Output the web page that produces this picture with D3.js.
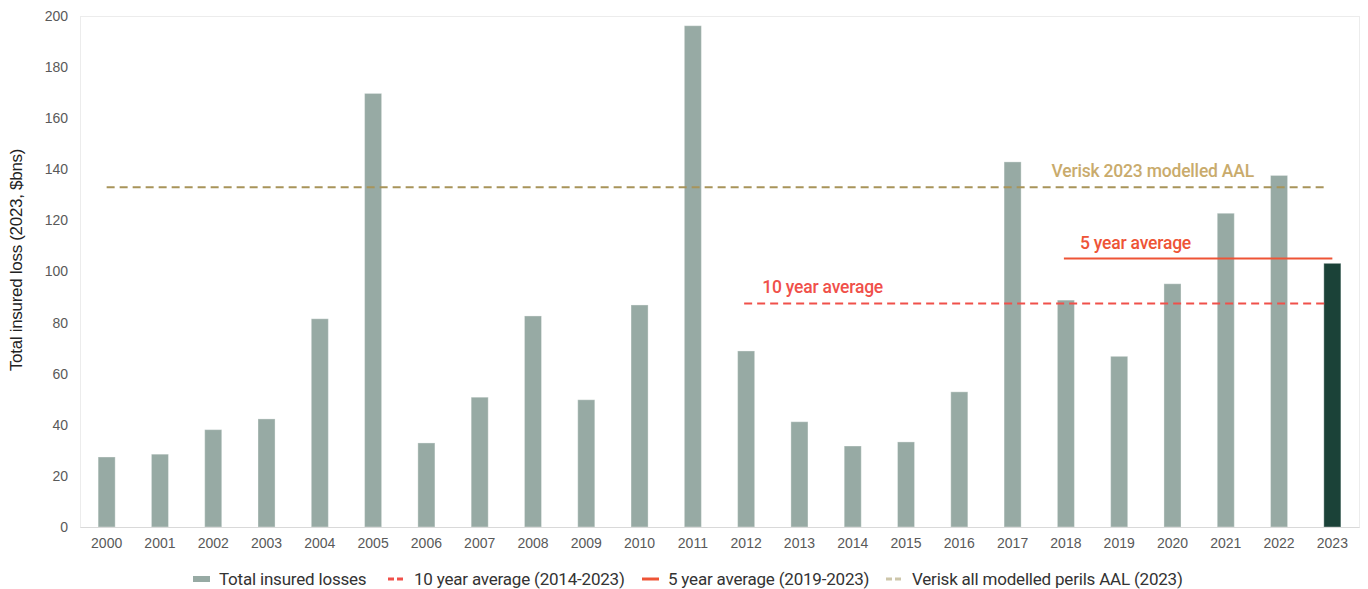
<!DOCTYPE html>
<html>
<head>
<meta charset="utf-8">
<script src="https://d3js.org/d3.v7.min.js"></script>
<style>
  body { margin: 0; background: #fff; }
  svg { display: block; }
</style>
</head>
<body>
<div id="chart"></div>
<script>
// data
const years = ["2000","2001","2002","2003","2004","2005","2006","2007","2008","2009","2010","2011",
               "2012","2013","2014","2015","2016","2017","2018","2019","2020","2021","2022","2023"];
const losses = [27.4, 28.5, 38.1, 42.3, 81.5, 169.7, 32.9, 50.8, 82.6, 49.8, 86.9, 196.2,
                68.9, 41.2, 31.7, 33.3, 52.9, 142.9, 88.8, 66.8, 95.2, 122.8, 137.6, 103.2];
const yTicks = [0, 20, 40, 60, 80, 100, 120, 140, 160, 180, 200];
const tenYearAvg = 87.5;
const fiveYearAvg = 105.1;
const veriskAAL = 133;
const legendLabels = ["Total insured losses", "10 year average (2014-2023)",
                      "5 year average (2019-2023)", "Verisk all modelled perils AAL (2023)"];

const width = 1368, height = 589;
const margin = {top: 16, right: 9, bottom: 62, left: 80};

const barColor = "#97aaa4", lastBarColor = "#1b4238";
const red10 = "#f0504a", red5 = "#ee5436", gold = "#a8945a", goldText = "#c9ab6c";

const svg = d3.select("#chart").append("svg")
    .attr("width", width)
    .attr("height", height);

const x = d3.scaleBand()
    .domain(years)
    .range([margin.left, width - margin.right])
    .paddingInner(0.68)
    .paddingOuter(0.34);

const y = d3.scaleLinear()
    .domain([0, 200])
    .range([height - margin.bottom, margin.top]);

const cx = yr => x(yr) + x.bandwidth() / 2;

// plot frame
svg.append("rect")
    .attr("x", margin.left + 0.5)
    .attr("y", margin.top + 0.5)
    .attr("width", width - margin.right - margin.left)
    .attr("height", height - margin.bottom - margin.top)
    .attr("fill", "none")
    .attr("stroke", "#ececec");

// bars
svg.append("g")
  .selectAll("rect")
  .data(years)
  .join("rect")
    .attr("x", d => x(d))
    .attr("y", (d, i) => y(losses[i]))
    .attr("width", x.bandwidth())
    .attr("height", (d, i) => y(0) - y(losses[i]))
    .attr("fill", (d, i) => i === years.length - 1 ? lastBarColor : barColor)
    .attr("stroke", "#ffffff")
    .attr("stroke-opacity", 0.35)
    .attr("stroke-width", 1);

// x axis
const xAxis = svg.append("g")
    .attr("transform", `translate(0,${y(0)})`)
    .call(d3.axisBottom(x).tickSize(0).tickPadding(11));
xAxis.select(".domain").attr("stroke", "#d9d9d9");
xAxis.selectAll("text")
    .attr("font-family", "Liberation Sans, Arial, sans-serif")
    .attr("font-size", 14)
    .attr("fill", "#595959");

// y axis
const yAxis = svg.append("g")
    .attr("transform", `translate(${margin.left},0)`)
    .call(d3.axisLeft(y).tickValues(yTicks).tickSize(0).tickPadding(12));
yAxis.select(".domain").remove();
yAxis.selectAll("text")
    .attr("font-family", "Liberation Sans, Arial, sans-serif")
    .attr("font-size", 14)
    .attr("fill", "#595959");

// y title
svg.append("text")
    .attr("transform", "translate(22,260) rotate(-90)")
    .attr("text-anchor", "middle")
    .attr("font-family", "Liberation Sans, Arial, sans-serif")
    .attr("font-size", 17)
    .attr("letter-spacing", -0.3)
    .attr("fill", "#222")
    .text("Total insured loss (2023, $bns)");

// reference lines
svg.append("line")
    .attr("x1", cx("2000")).attr("x2", cx("2023") - 4)
    .attr("y1", y(veriskAAL)).attr("y2", y(veriskAAL))
    .attr("stroke", gold).attr("stroke-width", 2)
    .attr("stroke-dasharray", "8,5");

svg.append("line")
    .attr("x1", cx("2012") - 2).attr("x2", cx("2023") - 4)
    .attr("y1", y(tenYearAvg)).attr("y2", y(tenYearAvg))
    .attr("stroke", red10).attr("stroke-width", 2)
    .attr("stroke-dasharray", "8,5");

svg.append("line")
    .attr("x1", cx("2018") - 2).attr("x2", cx("2023"))
    .attr("y1", y(fiveYearAvg)).attr("y2", y(fiveYearAvg))
    .attr("stroke", red5).attr("stroke-width", 2);

// annotations
const note = (tx, ty, txt, col) => svg.append("text")
    .attr("x", tx).attr("y", ty)
    .attr("font-family", "Roboto, sans-serif")
    .attr("font-weight", 500)
    .attr("font-size", 17.5)
    .attr("letter-spacing", -0.2)
    .attr("fill", col)
    .text(txt);

note(cx("2012") + 16, y(tenYearAvg) - 10, "10 year average", red10);
note(cx("2018") + 14, y(fiveYearAvg) - 9, "5 year average", red5);
note(cx("2017") + 39, y(veriskAAL) - 10, "Verisk 2023 modelled AAL", goldText);

// legend
const legendItems = [
  {label: legendLabels[0], x: 193, color: barColor, dash: null, w: 6},
  {label: legendLabels[1], x: 388, color: red10, dash: "6,3", w: 3},
  {label: legendLabels[2], x: 642, color: red5, dash: null, w: 3},
  {label: legendLabels[3], x: 886, color: "#cdc6aa", dash: "6,3", w: 3}
];

const legend = svg.append("g").attr("transform", "translate(0,579)");
legendItems.forEach(d => {
  legend.append("line")
      .attr("x1", d.x).attr("x2", d.x + 17)
      .attr("y1", 0).attr("y2", 0)
      .attr("stroke", d.color)
      .attr("stroke-width", d.w)
      .attr("stroke-dasharray", d.dash);
  legend.append("text")
      .attr("x", d.x + 26)
      .attr("y", 6)
      .attr("font-family", "Roboto, sans-serif")
      .attr("font-size", 17)
      .attr("letter-spacing", -0.2)
      .attr("fill", "#333")
      .text(d.label);
});
</script>
</body>
</html>
